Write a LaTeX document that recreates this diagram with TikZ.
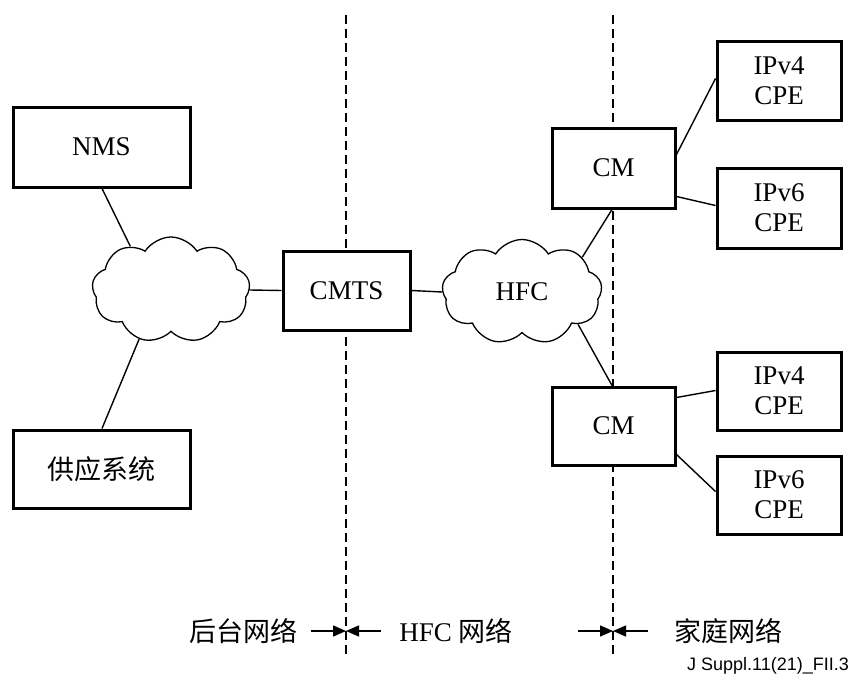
\documentclass[tikz,border=0pt]{standalone}
\usepackage{fontspec}
\setmainfont{Liberation Serif}
\setsansfont{Liberation Sans}
\newfontfamily\cjk{Noto Sans CJK SC}
\usetikzlibrary{shapes.symbols,arrows.meta}
\begin{document}
\begin{tikzpicture}[x=1pt,y=-1pt,
  box/.style={draw,line width=3pt,fill=white,inner sep=0pt,align=center,
    font=\fontsize{27}{30}\selectfont},
  netcloud/.style={cloud,draw,line width=1.3pt,fill=white,cloud puffs=9,
    cloud puff arc=115,aspect=1.5,inner sep=0pt,
    font=\fontsize{27}{30}\selectfont},
  link/.style={line width=1.4pt},
  border/.style={line width=1.8pt,dash pattern=on 9pt off 5pt},
  mark arrow/.style={line width=1.5pt,-{Triangle[length=13pt,width=11pt]}},
  zone/.style={font=\fontsize{27}{30}\selectfont,inner sep=0pt}]
\useasboundingbox (0,0) rectangle (851,677);

% domain borders
\coordinate (b1top) at (346,15);
\coordinate (b1bot) at (346,655);
\coordinate (b2top) at (613,15);
\coordinate (b2bot) at (613,655);
\draw[border] (b1top) -- (b1bot);
\draw[border] (b2top) -- (b2bot);

% back office side
\node[box,minimum width=177pt,minimum height=80pt] (nms) at (101.5,147) {NMS};
\node[box,minimum width=177pt,minimum height=78pt] (prov) at (101.5,469) {{\cjk 供应系统}};
\node[netcloud,minimum width=158pt,minimum height=106pt] (core) at (171,290) {};

% headend and access
\node[box,minimum width=127pt,minimum height=79pt] (cmts) at (346.5,290.5) {CMTS};
\node[netcloud,minimum width=160pt,minimum height=105pt] (hfc) at (522,292) {HFC};

% cable modems
\node[box,minimum width=123pt,minimum height=80pt] (cm1) at (613.5,168) {CM};
\node[box,minimum width=123pt,minimum height=78pt] (cm2) at (613.5,426) {CM};

% customer equipment
\node[box,minimum width=124pt,minimum height=78pt] (v4a) at (779,81) {IPv4\\CPE};
\node[box,minimum width=124pt,minimum height=80pt] (v6a) at (779,208) {IPv6\\CPE};
\node[box,minimum width=124pt,minimum height=78pt] (v4b) at (779,391) {IPv4\\CPE};
\node[box,minimum width=124pt,minimum height=78pt] (v6b) at (779,495) {IPv6\\CPE};

% links
\draw[link] ([xshift=0.5pt]nms.south) -- (core.133);
\draw[link] (core.237) -- ([xshift=0.5pt]prov.north);
\draw[link] (core.east) -- (cmts.west);
\draw[link] (cmts.east) -- (hfc.west);
\draw[link] (hfc.30) -- ([xshift=-1.5pt]cm1.south);
\draw[link] (hfc.-30) -- ([xshift=-1.5pt]cm2.north);
\draw[link] ([yshift=-28pt]cm1.north east) -- ([yshift=-38pt]v4a.north west);
\draw[link] ([yshift=13pt]cm1.south east) -- ([yshift=-39pt]v6a.north west);
\draw[link] ([yshift=-12pt]cm2.north east) -- ([yshift=-40pt]v4b.north west);
\draw[link] ([yshift=12pt]cm2.south east) -- ([yshift=-37pt]v6b.north west);

% domain labels
\node[zone] (lbl1) at (243,631) {\cjk 后台网络};
\node[zone] (lbl2) at (456,631) {HFC {\cjk 网络}};
\node[zone] (lbl3) at (728,631) {\cjk 家庭网络};
\coordinate (a1s) at (311,631);
\coordinate (a1e) at (346,631);
\coordinate (a2s) at (381,631);
\coordinate (a2e) at (346,631);
\coordinate (a3s) at (578,631);
\coordinate (a3e) at (613,631);
\coordinate (a4s) at (648,631);
\coordinate (a4e) at (613,631);
\draw[mark arrow] (a1s) -- (a1e);
\draw[mark arrow] (a2s) -- (a2e);
\draw[mark arrow] (a3s) -- (a3e);
\draw[mark arrow] (a4s) -- (a4e);

\node[anchor=east,inner sep=0pt,font=\sffamily\fontsize{18}{20}\selectfont] (fig) at (849,666) {J Suppl.11(21)\_FII.3};
\end{tikzpicture}
\end{document}
